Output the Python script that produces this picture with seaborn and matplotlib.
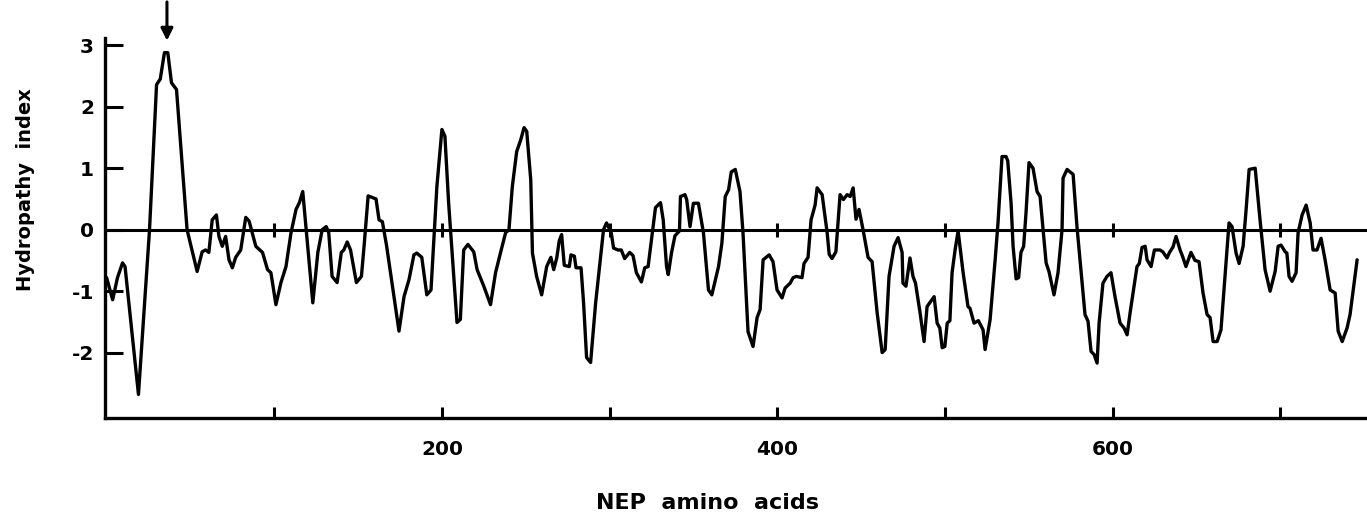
import numpy as np
import pandas as pd
import matplotlib
matplotlib.use("Agg")
import matplotlib.pyplot as plt
import seaborn as sns

# hydropathy profile (residue, index)
residue = [
    0, 3.6, 6.5, 9.5, 11, 19, 25.6, 29.8, 32, 34.5, 36.5, 38.7, 41.7, 48, 54, 57, 59, 61,
    63, 65.5, 67, 69, 71, 73, 75, 77, 80, 83, 85, 89, 93, 96, 98, 101, 104, 107, 110,
    113, 115, 117, 119, 123, 126,
    128.6, 131, 132.5, 134.5, 137.5, 140, 141.5, 143.5, 145.5, 149, 152, 153.6, 156,
    160.7, 162.5, 164.5, 167, 171.4, 174.4, 177.4, 180.4, 183.3, 185, 188, 191, 193.5,
    197, 200, 201.8, 204, 206.5, 209, 211, 213, 215.5, 219, 221, 225, 229, 232, 235,
    238, 240, 242, 244.6, 247, 249, 250.6,
    253, 254, 256.5, 259.5, 262.5, 265, 266.7, 268.5, 270, 271.4, 273, 276, 277, 279,
    280, 283, 284.5, 286.3, 288.7, 291.7, 296.4, 298.2, 301, 302.4, 305, 307, 309, 312,
    314, 316, 319, 321, 323, 325, 327.4, 330.4, 332, 334, 335, 337, 339, 341.7, 342.3,
    345, 346, 348, 350, 353, 356, 359, 361, 365, 367, 369, 371, 372.6, 375,
    377.8, 379.6, 382.6, 385.6, 388, 389.8, 391.6, 395.2, 397.5, 399.9, 402.9, 404.7,
    407.7, 409.5, 411.5, 414.8, 416, 418.4, 420.2, 422.6, 423.8, 426.8, 429.8, 431,
    432.7, 435, 437.5, 439.5, 441.7, 443.5, 445.3, 447, 448.8, 451.2, 454.2, 456.6,
    459.6, 462.6, 464.4, 466.7, 469.7, 472.1, 474.5, 475, 476.8, 479.2, 481, 482.5,
    485.2, 487.6, 489.4, 493.6, 495.4, 497, 498.4,
    500, 501.4, 503, 504.3, 506.1, 507.9, 510.9, 513.8, 515, 517.4, 520, 522.8, 524,
    527, 530, 531.7, 534.1, 536.5, 537.5, 539.5, 540.7, 542.5, 544, 545.4, 547, 548.4,
    550.2, 552.6, 555, 556.8, 558.6, 560.4, 562.1, 565.1, 567.5, 569.9, 570.5, 572.9,
    576.5, 578.8, 581.8, 583.6, 585.4, 587.2, 589, 590.8, 592, 594.3, 596.7, 599.1,
    601.5, 604.5, 606.9, 608.7, 610.5, 614.6, 616, 617.6, 619.5, 620.6, 623, 625,
    628.3, 630, 632.5, 634, 636.1, 637.9, 640.3, 642, 643.8, 646.8, 649.2, 651.6, 654,
    656.4, 658.2, 660, 662.4, 664.7, 667.1, 669.5, 671.3, 673.7, 675.5, 677.9, 679.7,
    681.5, 685.1, 688, 691, 694, 697, 698.8, 700.5, 703, 704, 705.3, 707.1, 709.5,
    710.7, 713.1, 715.5, 717.9, 719.6, 722, 724.4, 726.8, 729.8, 732.8, 734.6, 737,
    739.9, 741.7, 744.1, 745.9,
]
hydropathy = [
    -0.78, -1.14, -0.78, -0.54, -0.6, -2.68, 0.0, 2.36, 2.45, 2.88, 2.88, 2.39, 2.28,
    0.0, -0.68, -0.36, -0.33, -0.37, 0.16, 0.24, -0.11, -0.27, -0.11, -0.49, -0.62,
    -0.45, -0.33, 0.2, 0.14, -0.27, -0.37, -0.65, -0.7, -1.22, -0.86, -0.6, -0.05, 0.33,
    0.44, 0.62, 0.02, -1.19, -0.37,
    0.0, 0.05, -0.05, -0.76, -0.86, -0.37, -0.33, -0.2, -0.33, -0.86, -0.76, -0.26,
    0.55, 0.5, 0.16, 0.13, -0.26, -1.09, -1.65, -1.09, -0.81, -0.41, -0.38, -0.45,
    -1.06, -0.98, 0.7, 1.63, 1.52, 0.44, -0.54, -1.51, -1.46, -0.33, -0.24, -0.36,
    -0.65, -0.92, -1.22, -0.7, -0.37, -0.05, 0.0, 0.7, 1.27, 1.46, 1.66, 1.6,
    0.81, -0.38, -0.76, -1.06, -0.6, -0.45, -0.65, -0.46, -0.18, -0.08, -0.58, -0.6,
    -0.41, -0.43, -0.62, -0.62, -1.19, -2.08, -2.16, -1.19, 0.0, 0.11, -0.05, -0.3,
    -0.33, -0.33, -0.47, -0.37, -0.42, -0.7, -0.85, -0.62, -0.6, -0.16, 0.36, 0.44,
    0.16, -0.6, -0.73, -0.37, -0.1, -0.02, 0.54, 0.57, 0.49, 0.05, 0.43, 0.43, -0.05,
    -0.98, -1.06, -0.6, -0.22, 0.54, 0.65, 0.94, 0.98,
    0.62, -0.05, -1.66, -1.9, -1.43, -1.3, -0.49, -0.41, -0.52, -0.98, -1.11, -0.95,
    -0.87, -0.78, -0.76, -0.78, -0.55, -0.45, 0.16, 0.4, 0.68, 0.57, -0.05, -0.4,
    -0.47, -0.36, 0.57, 0.49, 0.57, 0.54, 0.68, 0.17, 0.33, 0.0, -0.45, -0.52, -1.35,
    -2.0, -1.95, -0.76, -0.27, -0.13, -0.37, -0.87, -0.92, -0.46, -0.76, -0.87, -1.35,
    -1.82, -1.25, -1.09, -1.52, -1.6, -1.92,
    -1.9, -1.52, -1.48, -0.7, -0.33, -0.02, -0.7, -1.25, -1.28, -1.52, -1.48, -1.63,
    -1.95, -1.46, -0.49, 0.11, 1.19, 1.19, 1.12, 0.43, -0.27, -0.8, -0.78, -0.37,
    -0.27, 0.27, 1.09, 1.0, 0.62, 0.54, 0.0, -0.54, -0.68, -1.06, -0.7, 0.0, 0.84,
    0.98, 0.9, 0.05, -0.84, -1.38, -1.49, -1.98, -2.03, -2.17, -1.52, -0.87, -0.76,
    -0.7, -1.09, -1.52, -1.6, -1.71, -1.35, -0.6, -0.55, -0.29, -0.27, -0.49, -0.6,
    -0.33,
    -0.33, -0.36, -0.46, -0.37, -0.28, -0.11, -0.33, -0.45, -0.6, -0.37, -0.5, -0.52,
    -1.03, -1.38, -1.43, -1.82, -1.82, -1.63, -0.76, 0.11, 0.05, -0.38, -0.55, -0.27,
    0.33, 0.98, 1.0, 0.16, -0.65, -1.0, -0.68, -0.27, -0.25, -0.36, -0.38, -0.76,
    -0.84, -0.7, -0.05, 0.24, 0.4, 0.11, -0.33, -0.33, -0.14, -0.49, -0.98, -1.03,
    -1.65, -1.82, -1.6, -1.38, -0.87, -0.49,
]
minor_ticks = [100, 200, 300, 400, 500, 600, 700]
x_labels = [200, 400, 600]
y_ticks = [-2, -1, 0, 1, 2, 3]
arrow_at = 36

df = pd.DataFrame({"residue": residue, "hydropathy": hydropathy})

sns.set_style("ticks")
plt.rcParams["font.family"] = ["DejaVu Sans"]
plt.rcParams["font.weight"] = "bold"
for key in ["text.color", "axes.labelcolor", "xtick.color", "ytick.color",
            "axes.edgecolor"]:
    plt.rcParams[key] = "black"

fig = plt.figure(figsize=(13.67, 5.12), dpi=100)
ax = fig.add_axes([0.077, 0.184, 0.923, 0.742])

sns.lineplot(data=df, x="residue", y="hydropathy", color="black", linewidth=2.4,
             ax=ax, sort=False)

# zero line with little marks every 100 residues
ax.axhline(0, color="black", linewidth=2.2)
ax.plot(minor_ticks, [0] * len(minor_ticks), linestyle="none", marker="|",
        markersize=10, markeredgewidth=2.2, color="black")

ax.set_xlim(-0.8, 751.8)
ax.set_ylim(-3.06, 3.12)

ax.set_xticks(minor_ticks)
ax.set_xticklabels([str(t) if t in x_labels else "" for t in minor_ticks])
ax.set_yticks(y_ticks)
ax.set_yticklabels([str(t) for t in y_ticks])

ax.tick_params(axis="x", direction="in", length=8, width=2.2, pad=16, labelsize=14.5)
ax.tick_params(axis="y", direction="in", length=13, width=2.2, pad=8, labelsize=14.5)
for lab in ax.get_xticklabels() + ax.get_yticklabels():
    lab.set_fontweight("bold")

sns.despine(ax=ax, top=True, right=True)
ax.spines["left"].set_linewidth(2.4)
ax.spines["bottom"].set_linewidth(2.4)

ax.set_xlabel("NEP  amino  acids", fontsize=16, fontweight="bold")
ax.set_ylabel("Hydropathy  index", fontsize=14, fontweight="bold")
ax.xaxis.label.set_va("center")
ax.yaxis.label.set_va("center")
ax.xaxis.set_label_coords(0.477, -0.224)
ax.yaxis.set_label_coords(-0.063, 0.6)

# arrow marking the hydrophobic peak
ax.annotate("", xy=(arrow_at, 3.03), xytext=(arrow_at, 3.75),
            arrowprops=dict(arrowstyle="-|>", color="black", lw=2.2,
                            mutation_scale=18),
            annotation_clip=False)

fig.savefig("out.png", dpi=100)
